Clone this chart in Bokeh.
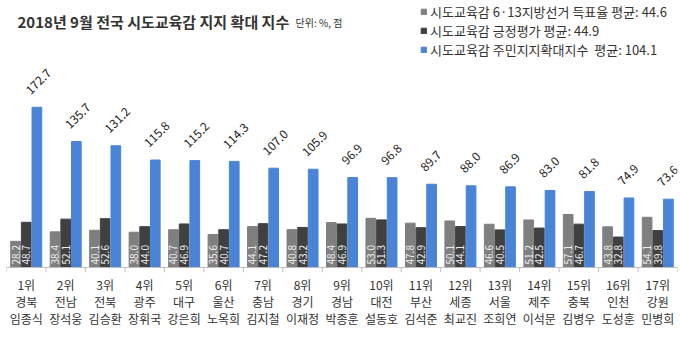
import math
from bokeh.plotting import figure
from bokeh.models import ColumnDataSource, FactorRange, Range1d, Label, Legend, LegendItem, Span
from bokeh.transform import dodge
from bokeh.core.properties import value
from bokeh.embed import file_html
from bokeh.resources import INLINE

ranks = ["1위", "2위", "3위", "4위", "5위", "6위", "7위", "8위", "9위", "10위",
         "11위", "12위", "13위", "14위", "15위", "16위", "17위"]
regions = ["경북", "전남", "전북", "광주", "대구", "울산", "충남", "경기", "경남", "대전",
           "부산", "세종", "서울", "제주", "충북", "인천", "강원"]
names = ["임종식", "장석웅", "김승환", "장휘국", "강은희", "노옥희", "김지철", "이재정", "박종훈", "설동호",
         "김석준", "최교진", "조희연", "이석문", "김병우", "도성훈", "민병희"]
vote_share = [28.2, 38.4, 40.1, 38.0, 40.7, 35.6, 44.1, 40.8, 48.4, 53.0,
              47.8, 50.1, 46.6, 51.2, 57.1, 43.8, 54.1]
approval = [48.7, 52.1, 52.6, 44.0, 46.9, 40.7, 47.2, 43.2, 46.9, 51.3,
            42.9, 44.1, 40.5, 42.5, 46.7, 32.8, 39.8]
support_index = [172.7, 135.7, 131.2, 115.8, 115.2, 114.3, 107.0, 105.9, 96.9, 96.8,
                 89.7, 88.0, 86.9, 83.0, 81.8, 74.9, 73.6]
legend_labels = ["시도교육감 6·13지방선거 득표율 평균: 44.6",
                 "시도교육감 긍정평가 평균: 44.9",
                 "시도교육감 주민지지확대지수  평균: 104.1"]
title_text = "2018년 9월 전국 시도교육감 지지 확대 지수"
unit_text = "단위: %, 점"

FONT = "Noto Sans CJK KR"
C_GRAY = "#7f7f7f"
C_DARK = "#404040"
C_BLUE = "#4a84d6"

factors = [f"{r}\n{g}\n{n}" for r, g, n in zip(ranks, regions, names)]
src = ColumnDataSource(dict(
    cat=factors,
    vote=vote_share, appr=approval, supp=support_index,
    vote_txt=[f"{v:.1f}" for v in vote_share],
    appr_txt=[f"{v:.1f}" for v in approval],
    supp_txt=[f"{v:.1f}" for v in support_index],
    zero=[0] * len(factors),
))

p = figure(width=680, height=342, x_range=FactorRange(*factors, range_padding=0),
           y_range=Range1d(-5.4, 287.7), output_backend="svg", toolbar_location=None,
           y_axis_location=None, min_border_left=6, min_border_right=3,
           min_border_top=0, min_border_bottom=70)
p.outline_line_color = None
p.xgrid.visible = False
p.ygrid.visible = False
p.background_fill_color = "white"
p.border_fill_color = "white"

w = 0.245
xr = p.x_range
r1 = p.vbar(x=dodge("cat", -0.27, range=xr), top="vote", width=w, bottom=0, source=src,
            fill_color=C_GRAY, line_color=C_GRAY)
r2 = p.vbar(x=dodge("cat", 0.0, range=xr), top="appr", width=w, bottom=0, source=src,
            fill_color=C_DARK, line_color=C_DARK)
r3 = p.vbar(x=dodge("cat", 0.27, range=xr), top="supp", width=w, bottom=0, source=src,
            fill_color=C_BLUE, line_color=C_BLUE)

# in-bar labels (rotated)
p.text(x=dodge("cat", -0.27, range=xr), y="zero", text="vote_txt", source=src,
       angle=math.pi / 2, text_align="left", text_baseline="middle", y_offset=-3,
       text_font=value(FONT), text_font_size="10px", text_color="#eeeeee")
p.text(x=dodge("cat", 0.0, range=xr), y="zero", text="appr_txt", source=src,
       angle=math.pi / 2, text_align="left", text_baseline="middle", y_offset=-3,
       text_font=value(FONT), text_font_size="10px", text_color="#eeeeee")
# top labels (45 degrees)
p.text(x=dodge("cat", 0.27, range=xr), y="supp", text="supp_txt", source=src,
       angle=math.pi / 4, text_align="left", text_baseline="bottom", x_offset=-6, y_offset=-12,
       text_font=value(FONT), text_font_size="12px", text_color="#222222")

# baseline and group separators
p.add_layout(Span(location=0, dimension="width", line_color="#bfbfbf", line_width=1))
p.segment(x0=dodge("cat", 0.5, range=xr), x1=dodge("cat", 0.5, range=xr), y0=0, y1=-5.4,
          source=src, line_color="#bfbfbf", line_width=1)
p.segment(x0=dodge("cat", -0.5, range=xr), x1=dodge("cat", -0.5, range=xr), y0=0, y1=-5.4,
          source=ColumnDataSource(dict(cat=factors[:1])), line_color="#bfbfbf", line_width=1)

ax = p.xaxis[0]
ax.axis_line_color = None
ax.major_tick_line_color = None
ax.minor_tick_line_color = None
ax.major_tick_out = 0
ax.major_tick_in = 0
ax.major_label_text_font = FONT
ax.major_label_text_font_size = "12px"
ax.major_label_text_color = "#333333"
ax.major_label_text_line_height = 1.0
ax.major_label_standoff = 3

# title
p.add_layout(Label(x=11, y=272 - 31, x_units="screen", y_units="screen", text=title_text,
                   text_font=FONT, text_font_size="15px", text_font_style="bold",
                   text_color="#333333"))
p.add_layout(Label(x=289, y=272 - 29, x_units="screen", y_units="screen", text=unit_text,
                   text_font=FONT, text_font_size="10px", text_color="#333333"))

legend = Legend(items=[LegendItem(label=legend_labels[0], renderers=[r1]),
                       LegendItem(label=legend_labels[1], renderers=[r2]),
                       LegendItem(label=legend_labels[2], renderers=[r3])],
                location=(414, 213), orientation="vertical",
                label_text_font=FONT, label_text_font_size="13px", label_text_color="#333333",
                label_text_line_height=0.9,
                glyph_width=7, glyph_height=7, label_height=17, spacing=-2, padding=0,
                margin=0, label_standoff=3, border_line_color=None,
                background_fill_alpha=0)
p.add_layout(legend)

open("out.html", "w").write(file_html(p, INLINE))
